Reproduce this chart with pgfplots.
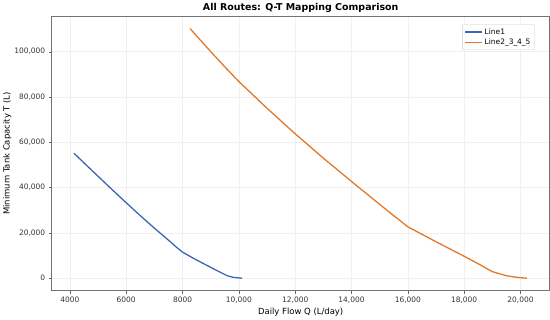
\documentclass[border=0pt]{standalone}
\usepackage{pgfplots}
\pgfplotsset{compat=1.18}
\usepackage{fontspec}
\setmainfont{DejaVu Sans}
\definecolor{lineblue}{RGB}{58,102,182}
\definecolor{lineorange}{RGB}{226,120,40}

\begin{document}
\begin{tikzpicture}
\begin{axis}[
    scale only axis,
    width=500pt, height=276pt,
    xmin=3355, xmax=21034,
    ymin=-5580, ymax=115700,
    scaled ticks=false,
    xtick={4000,6000,...,20000},
    ytick={0,20000,...,100000},
    xticklabels={4000,6000,8000,{10,000},{12,000},{14,000},{16,000},{18,000},{20,000}},
    yticklabels={0,{20,000},{40,000},{60,000},{80,000},{100,000}},
    tick label style={font=\fontsize{7.5}{8}\selectfont, text=black!80},
    tick align=outside, tick pos=left,
    major tick length=3pt,
    tick style={black!60},
    axis line style={black!55, line width=0.8pt},
    grid=major, grid style={black!6, line width=0.4pt},
    xlabel={Daily Flow Q (L/day)},
    ylabel={Minimum Tank Capacity T (L)},
    label style={font=\fontsize{8.5}{9}\selectfont},
    xlabel style={yshift=3pt},
    ylabel style={yshift=-4pt},
    title={\bfseries All Routes: Q-T Mapping Comparison},
    title style={font=\fontsize{9.5}{11}\selectfont, yshift=-6pt},
    legend pos=north east,
    legend style={font=\fontsize{7.5}{8}\selectfont, draw=black!20, rounded corners=1pt, cells={anchor=west}, inner sep=2pt, row sep=-1pt},
    legend cell align=left,
]
\addplot[lineblue, line width=1.3pt, line join=round] coordinates {
    (4141,55200) (4500,50900) (5000,45000) (5500,39100) (6000,33300)
    (6500,27600) (7000,22100) (7500,16800) (7800,13500) (8000,11500)
    (8400,8700) (8800,6100) (9200,3500) (9588,1100) (9800,400) (10116,0)
};
\addlegendentry{Line1}
\addplot[lineorange, line width=1.3pt, line join=round] coordinates {
    (8268,110150) (9000,100000) (9500,93300) (10000,86800) (11000,75000)
    (12000,63740) (13000,53000) (14000,42700) (15000,32600) (15500,27600)
    (16000,22700) (16500,19400) (17000,16100) (17500,12900) (18000,9700)
    (18500,6400) (19000,2900) (19500,1100) (19900,350) (20226,0)
};
\addlegendentry{Line2\_3\_4\_5}
\end{axis}
\end{tikzpicture}
\end{document}
